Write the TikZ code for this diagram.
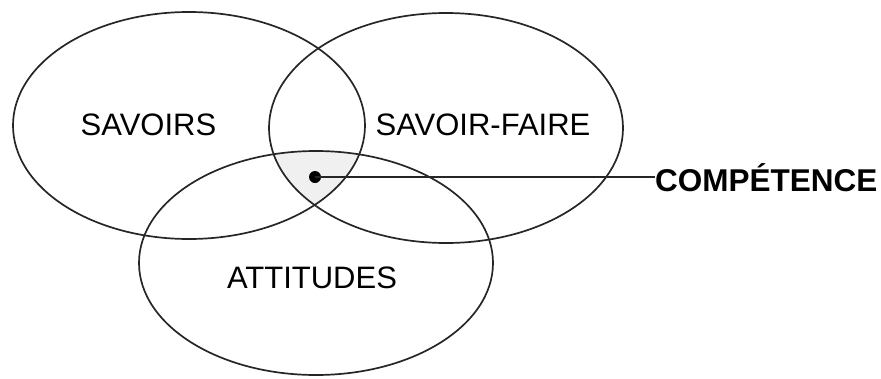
\documentclass[tikz,border=0pt]{standalone}
\usepackage{fontspec}
\setmainfont{Liberation Sans}
\begin{document}
\begin{tikzpicture}[x=1pt,y=-1pt,
  ring/.style={draw=black!85,line width=1.7pt},
  lbl/.style={inner sep=0pt,anchor=base,font=\fontsize{31}{36}\selectfont},
  complbl/.style={inner sep=0pt,anchor=base west,font=\fontsize{31.5}{36}\selectfont\bfseries}]
\useasboundingbox (0,0) rectangle (881,378);
% shaded common region
\begin{scope}
  \clip (189,125.5) ellipse [x radius=176, y radius=113.5];
  \clip (446,128) ellipse [x radius=177, y radius=115];
  \fill[black!6] (316,263) ellipse [x radius=177, y radius=112];
\end{scope}
\draw[ring] (189,125.5) ellipse [x radius=176, y radius=113.5];
\draw[ring] (446,128) ellipse [x radius=177, y radius=115];
\draw[ring] (316,263) ellipse [x radius=177, y radius=112];
\node[lbl] (sav) at (148.5,135) {SAVOIRS};
\node[lbl] (savf) at (483,135) {SAVOIR-FAIRE};
\node[lbl] (att) at (312,288) {ATTITUDES};
\node[complbl] (comp) at (655,191) {COMPÉTENCE};
\node[circle,fill=black,inner sep=0pt,minimum size=12pt] (dot) at (315,177) {};
\draw[line width=1.4pt,black!85] (dot.center) -- (dot.center -| comp.west);
\end{tikzpicture}
\end{document}
